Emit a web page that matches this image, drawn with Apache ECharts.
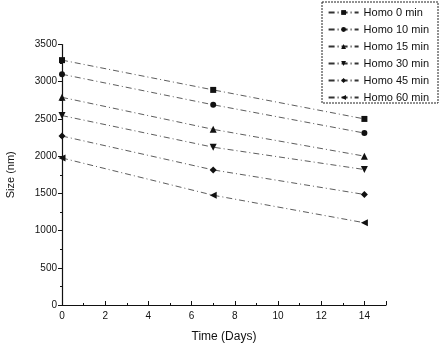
<!DOCTYPE html>
<html>
<head>
<meta charset="utf-8">
<script src="https://cdn.jsdelivr.net/npm/echarts@6/dist/echarts.min.js"></script>
<style>
  html, body { margin: 0; padding: 0; background: #fff; }
  #chart { width: 440px; height: 351px; }
</style>
</head>
<body>
<div id="chart"></div>
<script>
// days sampled
const days = [0, 7, 14];
const seriesNames = ["Homo 0 min", "Homo 10 min", "Homo 15 min", "Homo 30 min", "Homo 45 min", "Homo 60 min"];
// size (nm) per series
const homo0 = [3290, 2890, 2500];
const homo10 = [3100, 2690, 2310];
const homo15 = [2790, 2360, 2000];
const homo30 = [2545, 2120, 1820];
const homo45 = [2270, 1815, 1485];
const homo60 = [1975, 1475, 1105];
const allValues = [homo0, homo10, homo15, homo30, homo45, homo60];
const symbols = ["rect", "circle", "triangle", "triangle", "diamond", "triangle"];
const rotations = [0, 0, 0, 180, 0, 90];
const sizes = [6, 6, 7, 7, 7, 7];

const chart = echarts.init(document.getElementById("chart"));
const ink = "#111";
const font = "Liberation Sans, Arial";

chart.setOption({
  animation: false,
  backgroundColor: "#fff",
  grid: { left: 62, right: 54, top: 44.5, bottom: 46, outerBoundsMode: "none" },
  legend: {
    right: 6,
    top: 2,
    orient: "vertical",
    itemWidth: 30,
    itemHeight: 6,
    itemGap: 6,
    textStyle: { color: ink, fontSize: 11, fontFamily: font },
    data: seriesNames
  },
  graphic: [{
    type: "rect",
    shape: { x: 322, y: 2, width: 116, height: 101 },
    style: { fill: "none", stroke: "#222", lineWidth: 1, lineDash: [2, 1] }
  }],
  xAxis: {
    type: "value",
    min: 0,
    max: 15,
    interval: 2,
    name: "Time (Days)",
    nameLocation: "middle",
    nameGap: 26,
    nameTextStyle: { color: ink, fontSize: 12, fontFamily: font },
    axisLine: { lineStyle: { color: ink, width: 1.2 } },
    axisTick: { inside: true, length: 4, lineStyle: { color: ink } },
    minorTick: { show: true, splitNumber: 2, length: 2, lineStyle: { color: ink } },
    axisLabel: {
      color: ink, fontSize: 10, fontFamily: font, margin: 6,
      formatter: v => (v > 14 ? "" : String(v))
    },
    splitLine: { show: false }
  },
  yAxis: {
    type: "value",
    min: 0,
    max: 3500,
    interval: 500,
    name: "Size (nm)",
    nameLocation: "middle",
    nameGap: 46,
    nameTextStyle: { color: ink, fontSize: 11, fontFamily: font },
    axisLine: { show: true, lineStyle: { color: ink, width: 1.2 } },
    axisTick: { show: true, length: 4, lineStyle: { color: ink } },
    minorTick: { show: true, splitNumber: 2, length: 2, lineStyle: { color: ink } },
    axisLabel: { color: ink, fontSize: 10, fontFamily: font, margin: 5, formatter: v => String(v) },
    splitLine: { show: false }
  },
  series: seriesNames.map((name, i) => ({
    name: name,
    type: "line",
    data: days.map((d, j) => [d, allValues[i][j]]),
    symbol: symbols[i],
    symbolRotate: rotations[i],
    symbolSize: sizes[i],
    showAllSymbol: true,
    itemStyle: { color: ink },
    lineStyle: { color: "#333", width: 0.8, type: [6, 3, 1, 3] }
  }))
});
</script>
</body>
</html>
